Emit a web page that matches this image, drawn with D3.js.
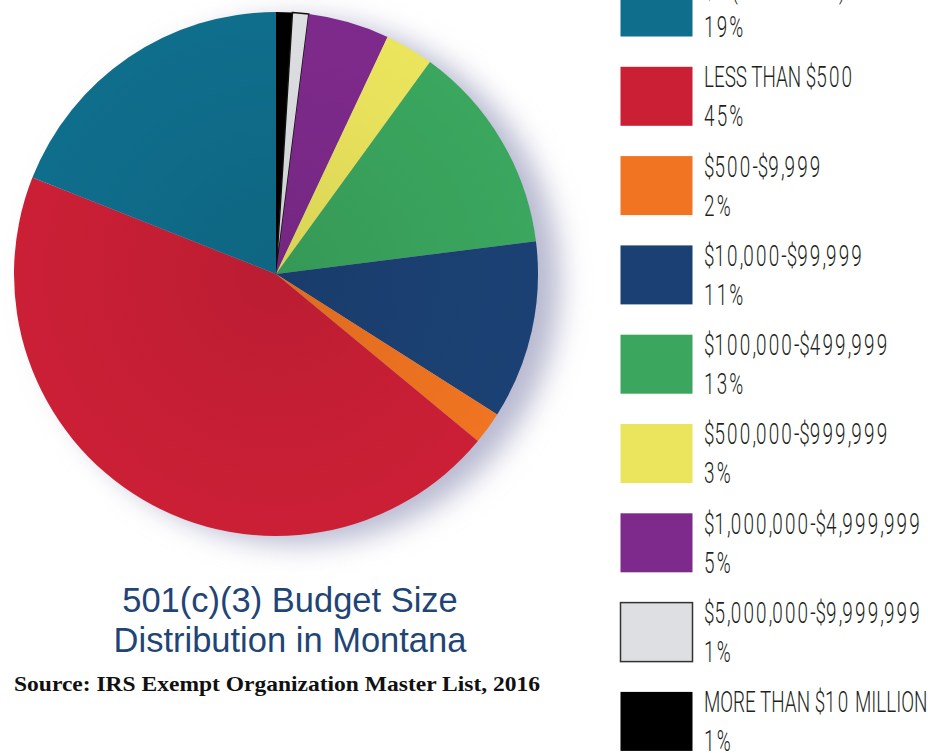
<!DOCTYPE html>
<html><head><meta charset="utf-8">
<script src="https://cdn.jsdelivr.net/npm/d3@7"></script>
<style>body{margin:0;background:#fff;}svg{display:block;}</style>
</head><body>
<svg id="c" width="928" height="753"></svg>
<script>
const categories = ["MORE THAN $10 MILLION","$5,000,000-$9,999,999","$1,000,000-$4,999,999","$500,000-$999,999","$100,000-$499,999","$10,000-$99,999","$500-$9,999","LESS THAN $500","$0 (NO INCOME)"];
const values = [1,1,5,3,13,11,2,45,19];
const colors = ["#000000","#dedfe2","#7e2a8c","#ebe55d","#3aa65e","#1b4174","#f07421","#cb1f36","#0f6e8c"];
const legendOrder = [8,7,6,5,4,3,2,1,0];

const svg = d3.select("#c");
const defs = svg.append("defs");
const f = defs.append("filter").attr("id","sh").attr("x","-30%").attr("y","-30%").attr("width","160%").attr("height","160%");
f.append("feGaussianBlur").attr("stdDeviation",14);
const rg = defs.append("radialGradient").attr("id","shade").attr("gradientUnits","userSpaceOnUse").attr("cx",276).attr("cy",274).attr("r",262);
rg.append("stop").attr("offset","0").attr("stop-color","#000").attr("stop-opacity",0.08);
rg.append("stop").attr("offset","0.7").attr("stop-color","#000").attr("stop-opacity",0.02);
rg.append("stop").attr("offset","1").attr("stop-color","#000").attr("stop-opacity",0);

const cx = 276, cy = 274, R = 262;
const pie = d3.pie().sort(null).value(d => d)(values);
const arc = d3.arc().innerRadius(0).outerRadius(R);

svg.append("circle").attr("cx",cx+22).attr("cy",cy+8).attr("r",R).attr("fill","#b8b9d0").attr("filter","url(#sh)");

const g = svg.append("g").attr("transform",`translate(${cx},${cy})`);
g.selectAll("path.s").data(pie).join("path").attr("class","s")
  .attr("d",arc).attr("fill",(d,i)=>colors[i])
  .attr("stroke",(d,i)=> i===1 ? "#111" : "none").attr("stroke-width",(d,i)=> i===1 ? 1.5 : 0);
svg.append("circle").attr("cx",cx).attr("cy",cy).attr("r",R).attr("fill","url(#shade)");

// legend
const lg = svg.append("g");
const step = 89.3, top0 = -23;
const lf = "Roboto,'Liberation Sans',sans-serif";
function condText(x, y, str){
  const t = lg.append("text").attr("x",x).attr("y",y)
    .attr("font-family",lf).attr("font-weight",300).attr("font-size",29.5).attr("fill","#231f20")
    .attr("transform",`translate(${x},0) scale(0.64,1) translate(${-x},0)`);
  str.split(/(\d+)/).filter(s=>s.length).forEach(part=>{
    const sp = t.append("tspan").text(part);
    if(/^\d+$/.test(part)) sp.attr("letter-spacing",3.4);
  });
}
legendOrder.forEach((idx,k)=>{
  const y = top0 + k*step;
  lg.append("rect").attr("x",620.5).attr("y",y+0.5).attr("width",72).attr("height",59)
    .attr("fill",colors[idx]).attr("stroke", idx===1 ? "#333" : "none").attr("stroke-width",1.5);
  condText(704, y+21, categories[idx]);
  condText(704, y+60, values[idx]+"%");
});

svg.append("text").attr("x",290).attr("y",612).attr("text-anchor","middle")
  .attr("font-family","'Liberation Sans',Arial,sans-serif").attr("font-size",34.5).attr("fill","#1f4576").text("501(c)(3) Budget Size");
svg.append("text").attr("x",290).attr("y",652).attr("text-anchor","middle")
  .attr("font-family","'Liberation Sans',Arial,sans-serif").attr("font-size",34.5).attr("fill","#1f4576").text("Distribution in Montana");
svg.append("text").attr("x",14).attr("y",691)
  .attr("font-family","'Liberation Serif','DejaVu Serif',serif").attr("font-size",21).attr("font-weight","bold").attr("fill","#111")
  .attr("transform","translate(14,0) scale(1.12,1) translate(-14,0)")
  .text("Source: IRS Exempt Organization Master List, 2016");
</script>
</body></html>
